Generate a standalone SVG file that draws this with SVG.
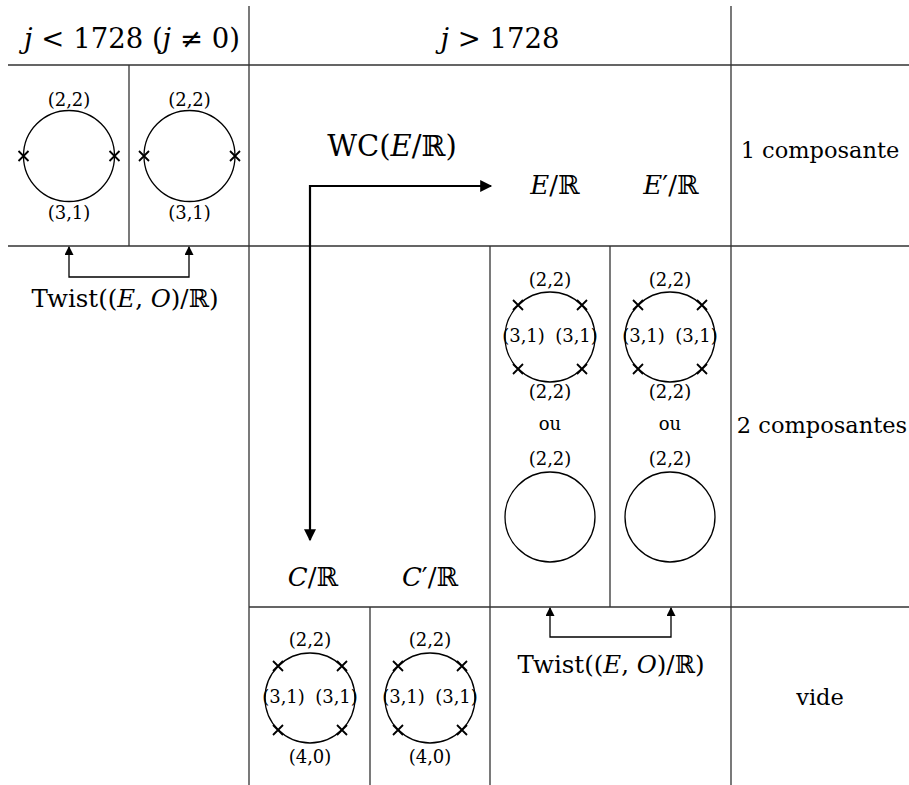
<svg xmlns="http://www.w3.org/2000/svg" width="909" height="785" viewBox="0 0 909 785" font-family="'DejaVu Serif', serif">
<style>
text{font-family:"DejaVu Serif",serif;fill:#000;text-anchor:middle}
.big{font-size:27.5px}
.wc{font-size:29px}
.mid{font-size:26px}
.lab{font-size:22.5px}
.tw{font-size:24.5px}
.sm{font-size:18px}
.i{font-style:italic}
.grid{stroke:#333;stroke-width:1.3;fill:none}
.c{fill:none;stroke:#000;stroke-width:1.3}
.x{stroke:#000;stroke-width:1.8}
.arr{fill:none;stroke:#000;stroke-width:2.2}
.twl{fill:none;stroke:#000;stroke-width:1.3}
</style>
<defs>
<marker id="ah" viewBox="0 0 10 10" refX="9" refY="5" markerUnits="userSpaceOnUse" markerWidth="16" markerHeight="12" orient="auto-start-reverse"><path d="M0,0 L10,5 L0,10 z" fill="#000"/></marker>
<marker id="ahs" viewBox="0 0 10 10" refX="9" refY="5" markerUnits="userSpaceOnUse" markerWidth="13" markerHeight="9" orient="auto-start-reverse"><path d="M0,0 L10,5 L0,10 z" fill="#000"/></marker>
<g id="xm"><path class="x" d="M-5,-5 L5,5 M-5,5 L5,-5"/></g>
</defs>
<g id="grid">
<path class="grid" d="M8,65 H909 M8,246 H909 M249,607 H909 M249,6 V785 M731,6 V785 M129,65 V246 M490,246 V785 M610,246 V607 M370,607 V785"/>
</g>
<g id="headers">
<text class="big" x="132" y="48"><tspan class="i">j</tspan> &lt; 1728 (<tspan class="i">j</tspan> ≠ 0)</text>
<text class="big" x="500" y="48"><tspan class="i">j</tspan> &gt; 1728</text>
<text class="lab" x="820" y="158">1 composante</text>
<text class="lab" x="822" y="433">2 composantes</text>
<text class="lab" x="820" y="705">vide</text>
</g>
<g id="left1">
<circle class="c" cx="69" cy="156" r="45.5"/>
<use href="#xm" x="23.5" y="156"/><use href="#xm" x="114.5" y="156"/>
<text class="sm" x="69" y="106">(2,2)</text>
<text class="sm" x="69" y="219">(3,1)</text>
</g>
<g id="left2">
<circle class="c" cx="189.5" cy="156" r="45.5"/>
<use href="#xm" x="144" y="156"/><use href="#xm" x="235" y="156"/>
<text class="sm" x="189.5" y="106">(2,2)</text>
<text class="sm" x="189.5" y="219">(3,1)</text>
</g>
<g id="twist-left">
<text class="tw" x="125" y="307">Twist((<tspan class="i">E</tspan>, <tspan class="i">O</tspan>)/ℝ)</text>
</g>
<g id="wc">
<text class="wc" x="392" y="156">WC(<tspan class="i">E</tspan>/ℝ)</text>
</g>
<g id="ER"><text class="mid" x="555" y="194"><tspan class="i">E</tspan>/ℝ</text></g>
<g id="EpR"><text class="mid" x="671" y="194"><tspan class="i">E</tspan>′/ℝ</text></g>
<g id="CR"><text class="mid" x="313" y="586"><tspan class="i">C</tspan>/ℝ</text></g>
<g id="CpR"><text class="mid" x="430" y="586"><tspan class="i">C</tspan>′/ℝ</text></g>
<g id="E1">
<circle class="c" cx="550" cy="337" r="45"/>
<use href="#xm" x="518" y="305"/><use href="#xm" x="582" y="305"/><use href="#xm" x="518" y="369"/><use href="#xm" x="582" y="369"/>
<text class="sm" x="550" y="286">(2,2)</text>
<text class="sm" x="523.5" y="342">(3,1)</text>
<text class="sm" x="576.5" y="342">(3,1)</text>
<text class="sm" x="550" y="398">(2,2)</text>
<text class="sm" x="550" y="430">ou</text>
<text class="sm" x="550" y="465">(2,2)</text>
<circle class="c" cx="550" cy="517" r="45"/>
</g>
<g id="E2">
<circle class="c" cx="670" cy="337" r="45"/>
<use href="#xm" x="638" y="305"/><use href="#xm" x="702" y="305"/><use href="#xm" x="638" y="369"/><use href="#xm" x="702" y="369"/>
<text class="sm" x="670" y="286">(2,2)</text>
<text class="sm" x="643.5" y="342">(3,1)</text>
<text class="sm" x="696.5" y="342">(3,1)</text>
<text class="sm" x="670" y="398">(2,2)</text>
<text class="sm" x="670" y="430">ou</text>
<text class="sm" x="670" y="465">(2,2)</text>
<circle class="c" cx="670" cy="517" r="45"/>
</g>
<g id="C1">
<circle class="c" cx="310" cy="698" r="45"/>
<use href="#xm" x="278" y="666"/><use href="#xm" x="342" y="666"/><use href="#xm" x="278" y="730"/><use href="#xm" x="342" y="730"/>
<text class="sm" x="310" y="646">(2,2)</text>
<text class="sm" x="283.5" y="703">(3,1)</text>
<text class="sm" x="336.5" y="703">(3,1)</text>
<text class="sm" x="310" y="763">(4,0)</text>
</g>
<g id="C2">
<circle class="c" cx="430" cy="698" r="45"/>
<use href="#xm" x="398" y="666"/><use href="#xm" x="462" y="666"/><use href="#xm" x="398" y="730"/><use href="#xm" x="462" y="730"/>
<text class="sm" x="430" y="646">(2,2)</text>
<text class="sm" x="403.5" y="703">(3,1)</text>
<text class="sm" x="456.5" y="703">(3,1)</text>
<text class="sm" x="430" y="763">(4,0)</text>
</g>
<g id="twist-bottom">
<text class="tw" x="611" y="673">Twist((<tspan class="i">E</tspan>, <tspan class="i">O</tspan>)/ℝ)</text>
</g>
<g id="connectors">
<path class="arr" d="M310,540 V186 H491" marker-start="url(#ah)" marker-end="url(#ah)"/>
<path class="twl" d="M69,247 V277 H189 V247" marker-start="url(#ahs)" marker-end="url(#ahs)"/>
<path class="twl" d="M550,608 V637 H671 V608" marker-start="url(#ahs)" marker-end="url(#ahs)"/>
</g>
</svg>
